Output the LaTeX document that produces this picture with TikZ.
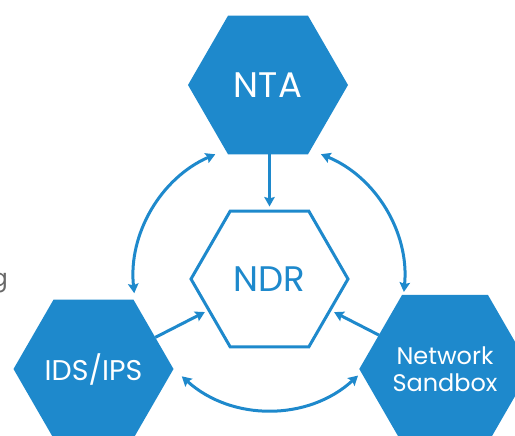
\documentclass[tikz,border=0pt]{standalone}
\usepackage{fontspec}
\setmainfont{Poppins}
\usetikzlibrary{shapes.geometric,arrows.meta}
\definecolor{hexblue}{RGB}{30,137,204}
\definecolor{fraggray}{RGB}{105,105,105}
\begin{document}
\begin{tikzpicture}[x=1pt,y=1pt,
  hexfill/.style={regular polygon, regular polygon sides=6, minimum size=160pt, inner sep=0pt, outer sep=0pt, fill=hexblue, text=white, align=center},
  hexline/.style={regular polygon, regular polygon sides=6, minimum size=157pt, inner sep=0pt, draw=hexblue, line width=3pt, text=hexblue},
  tip/.tip={Stealth[length=9.5pt,width=10.5pt,inset=1.5pt]},
  onearrow/.style={draw=hexblue, line width=3pt, -tip},
  twoarrow/.style={draw=hexblue, line width=3pt, tip-tip},
  bigtext/.style={font=\fontsize{35.5}{40}\selectfont},
  midtext/.style={font=\fontsize{28.5}{34}\selectfont},
  smalltext/.style={font=\fontsize{24}{27}\selectfont}
]
\fill[white] (0,0) rectangle (515,-436);
\clip (0,0) rectangle (515,-436);

\node[hexfill, bigtext] (nta) at (268,-85) {NTA};
\node[hexline, bigtext] (ndr) at (269.5,-279) {NDR};
\node[hexfill, midtext] (ids) at (93.5,-369) {IDS/IPS};
\node[hexfill, smalltext] (sbx) at (445,-369) {Network\\Sandbox};
\node[text=fraggray, smalltext, anchor=base east, inner sep=0pt] (frag) at (8,-287) {g};

\draw[onearrow, shorten >=3pt] (nta.south -| ndr.north) -- (ndr.north);
\draw[onearrow, shorten >=3pt] (ids) -- (ndr);
\draw[onearrow, shorten >=3pt] (sbx) -- (ndr);

\draw[twoarrow] ([shift={(113.5:136)}]ndr.center) arc[start angle=113.5, end angle=186, radius=136];
\draw[twoarrow] ([shift={(67.6:135)}]ndr.center) arc[start angle=67.6, end angle=-5.5, radius=135];
\draw[twoarrow] ([shift={(228:131)}]ndr.center) arc[start angle=228, end angle=312.5, radius=131];
\end{tikzpicture}
\end{document}
